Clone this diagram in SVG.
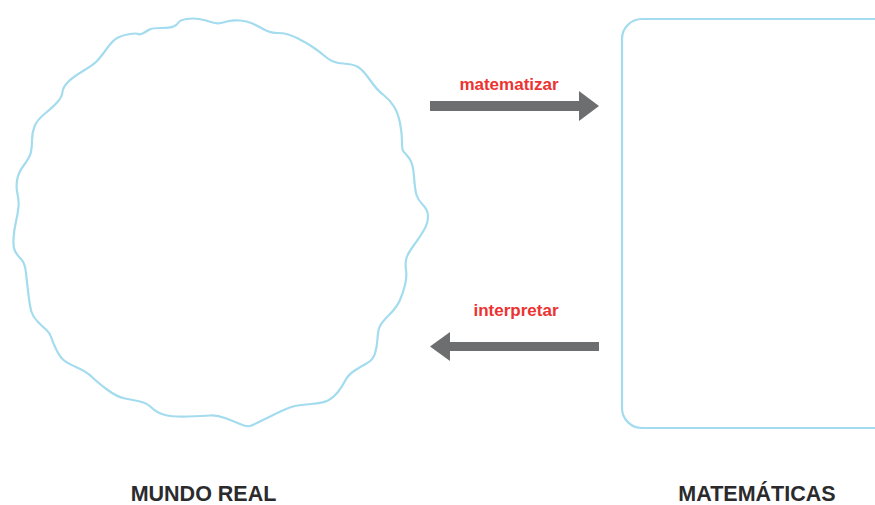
<svg xmlns="http://www.w3.org/2000/svg" width="875" height="505" viewBox="0 0 875 505">
<style>
.outline{fill:none;stroke:#a4dcef;stroke-width:2.2;stroke-linejoin:round}
.arrow{fill:#6d6e70}
.verb{font-family:"Liberation Sans",Arial,sans-serif;font-weight:bold;font-size:17px;fill:#ec3331;text-anchor:middle}
.title{font-family:"Liberation Sans",Arial,sans-serif;font-weight:bold;font-size:21.5px;fill:#2b2b2d;text-anchor:middle}
</style>
<rect width="875" height="505" fill="#ffffff"/>
<g id="mundo-real">
<path class="outline" d="M178.5,22.5 Q180,20 186.5,19 Q193,18 199,19 Q205,20 211,22 Q217,24 221,23 Q225,22 229,21 Q233,20 240,20.5 Q247,21 252.5,23.5 Q258,26 264,29.5 Q270,33 278.5,33 Q287,33 297,38 Q307,43 313.5,47.5 Q320,52 326.5,57.5 Q333,63 343,63.5 Q353,64 358,67 Q363,70 370,80 Q377,90 383.5,95 Q390,100 394,106.5 Q398,113 400,123 Q402,133 402,141.5 Q402,150 403.5,151.5 Q405,153 409,158 Q413,163 414,176.5 Q415,190 416.5,195 Q418,200 423,205 Q428,210 428,216.5 Q428,223 424,230 Q420,237 414,245 Q408,253 406.5,258 Q405,263 406,270 Q407,277 405,285 Q403,293 400,300 Q397,307 389.5,314.5 Q382,322 380,326 Q378,330 377.5,338.5 Q377,347 375,353.5 Q373,360 366.5,363.5 Q360,367 354,371 Q348,375 345,381 Q342,387 337.5,392.5 Q333,398 328,400.5 Q323,403 311.5,404 Q300,405 295,406 Q290,407 281.5,411 Q273,415 263,420 Q253,425 250,426 Q247,427 240,424 Q233,421 225,418 Q217,415 210,415.5 Q203,416 188,416.5 Q173,417 165,415 Q157,413 152,408 Q147,403 140,401.5 Q133,400 125,398.5 Q117,397 107,389.5 Q97,382 92,377 Q87,372 77,367.5 Q67,363 63.5,360 Q60,357 56.5,350 Q53,343 51.5,338 Q50,333 46.5,330 Q43,327 38,322 Q33,317 31.5,312 Q30,307 28.5,295 Q27,283 26,273 Q25,263 21,259 Q17,255 15,251 Q13,247 13.5,238.5 Q14,230 16,221.5 Q18,213 18.5,206.5 Q19,200 17.5,194 Q16,188 17,180.5 Q18,173 24,165 Q30,157 31,152 Q32,147 32,140 Q32,133 34.5,126.5 Q37,120 45,113.5 Q53,107 57.5,102 Q62,97 62.5,92 Q63,87 68,82 Q73,77 83,71 Q93,65 96.5,61.5 Q100,58 106.5,49 Q113,40 118,37.5 Q123,35 130,34 Q137,33 138.5,34 Q140,35 143.5,33 Q147,31 149.5,29.5 Q152,28 161,28 Q170,28 173.5,26.5 Q177,25 178.5,22.5 Z"/>
<text class="title" x="203.5" y="501">MUNDO REAL</text>
</g>
<g id="matematicas">
<rect class="outline" x="622" y="19" width="300" height="409" rx="20" ry="20"/>
<text class="title" x="757" y="501">MATEMÁTICAS</text>
</g>
<g id="connectors">
<polygon class="arrow" points="430,101 579,101 579,91 599,106 579,121 579,111 430,111"/>
<text class="verb" x="509" y="90">matematizar</text>
<polygon class="arrow" points="599,342 450,342 450,332 430,346.5 450,361 450,351 599,351"/>
<text class="verb" x="516" y="316">interpretar</text>
</g>
</svg>
